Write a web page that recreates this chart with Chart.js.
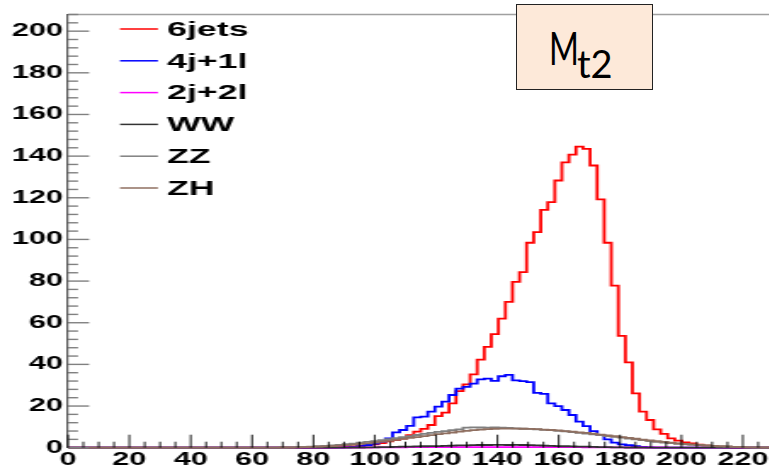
<!DOCTYPE html>
<html>
<head>
<meta charset="utf-8">
<script src="https://cdn.jsdelivr.net/npm/chart.js@4.4.1/dist/chart.umd.min.js"></script>
<style>
  html, body { margin: 0; padding: 0; background: #fff; overflow: hidden; }
  body { width: 769px; height: 469px; position: relative; }
  /* the ROOT canvas was pasted stretched sideways, so draw narrow and widen */
  #stretch { position: absolute; left: 0; top: 0; width: 455px; height: 469px;
             transform: scaleX(1.7); transform-origin: 0 0; }
  #tag { position: absolute; left: 516px; top: 4px; width: 137px; height: 86px;
         box-sizing: border-box; background: #fde9d9; border: 1.5px solid #222; }
  #tag span { position: absolute; font-family: Lato, "Open Sans", sans-serif; color: #000; line-height: 1; }
  #tag .m { left: 31.5px; top: 20px; font-size: 46px; transform: scaleX(0.7); transform-origin: 0 0; }
  #tag .sub { left: 60px; top: 39px; font-size: 38px; }
</style>
</head>
<body>
<div id="stretch"><canvas id="mt2" width="455" height="469"></canvas></div>
<div id="tag"><span class="m">M</span><span class="sub">t2</span></div>
<script>
// 100 bins of 2.3 GeV from 0 to 230
const binWidth = 2.3;
const nBins = 100;
const firstBin = 30; // every sample is empty below this bin

const seriesNames = ['6jets', '4j+1l', '2j+2l', 'WW', 'ZZ', 'ZH'];
const seriesColors = ['#ff0000', '#0000ff', '#ff00ff', '#333333', '#808080', '#8f6f60'];

// bin contents from firstBin to bin 99
const jets6 = [
  0, 0, 0, 0, 0, 0, 0,
  0.2, 0.3, 0.4, 0.6, 0.9, 1.2, 1.6, 2.2,
  3.0, 3.6, 4.4, 6.0, 7.7, 9.0, 10.9, 15.2,
  16.8, 21.3, 27.2, 30.4, 35.2, 42.3, 48.4, 54.5,
  62.0, 70.0, 79.6, 84.3, 98.4, 103.5, 114.2, 117.9,
  128.3, 137.0, 140.7, 144.6, 143.5, 135.5, 119.2, 98.4,
  77.8, 53.7, 41.0, 26.1, 17.3, 13.3, 8.8, 6.6,
  4.5, 3.4, 2.6, 2.1, 1.5, 1.0, 0.7, 0.4,
  0.2, 0, 0, 0, 0, 0, 0
];
const j4l1 = [
  0, 0, 0, 0, 0, 0, 0, 0, 0,
  0.2, 0.4, 0.8, 1.3, 2.0, 2.9, 4.5, 7.4,
  8.5, 10.5, 14.6, 14.9, 17.3, 19.7, 22.1, 25.3,
  28.4, 29.2, 30.8, 32.8, 33.2, 32.1, 34.3, 35.0,
  32.3, 32.0, 31.5, 26.3, 25.8, 21.3, 20.0, 18.1,
  15.7, 12.5, 10.4, 8.0, 6.1, 4.0, 2.4, 1.6,
  1.2, 0.7, 0.4, 0.2, 0, 0, 0, 0,
  0, 0, 0, 0, 0, 0, 0, 0, 0, 0, 0, 0, 0
];
const j2l2 = [
  0, 0, 0, 0, 0, 0, 0, 0,
  0.1, 0.1, 0.1, 0.1, 0.1,
  0.2, 0.2, 0.2, 0.2, 0.2,
  0.3, 0.3, 0.3, 0.3, 0.3, 0.3, 0.3, 0.3, 0.3, 0.3, 0.3, 0.3, 0.3,
  0.3, 0.3, 0.3, 0.3, 0.3, 0.3, 0.3, 0.3, 0.3, 0.3, 0.3, 0.3,
  0.2, 0.2, 0.2, 0.2, 0.2, 0.2,
  0.1, 0.1, 0.1, 0.1, 0.1, 0.1,
  0, 0, 0, 0, 0, 0, 0, 0, 0, 0, 0, 0, 0, 0, 0
];
const ww = [
  0, 0, 0, 0, 0, 0, 0, 0, 0, 0,
  0.1, 0.1, 0.2, 0.2, 0.3, 0.3, 0.4, 0.5,
  0.5, 0.6, 0.7, 0.8, 0.8, 0.9, 1.0, 1.1,
  1.1, 1.2, 1.3, 1.3, 1.4, 1.4, 1.3, 1.4,
  1.3, 1.2, 1.1, 1.0, 0.9, 0.8, 0.7, 0.6,
  0.5, 0.5, 0.4, 0.3, 0.3, 0.2, 0.2, 0.1,
  0.1, 0, 0, 0, 0, 0, 0, 0, 0, 0, 0, 0, 0, 0, 0, 0, 0, 0, 0, 0
];
const zz = [
  0.1, 0.2, 0.3, 0.4, 0.5, 0.7, 0.9, 1.1,
  1.4, 1.7, 2.0, 2.4, 2.8, 3.2, 3.6, 4.1,
  4.6, 5.1, 5.6, 6.1, 6.6, 7.1, 7.6, 8.0,
  8.4, 8.8, 9.6, 9.8, 9.7, 9.6, 9.7, 9.6,
  9.5, 9.3, 9.1, 9.0, 8.8, 8.6, 8.4, 8.1,
  7.8, 7.5, 7.1, 6.8, 6.4, 6.0, 5.6, 5.2,
  4.8, 4.4, 4.0, 3.6, 3.2, 2.8, 2.5, 2.2,
  1.9, 1.6, 1.4, 1.2, 1.0, 0.8, 0.6, 0.5,
  0.4, 0.3, 0.2, 0.1, 0.1, 0
];
const zh = [
  0.1, 0.1, 0.2, 0.3, 0.4, 0.5, 0.6, 0.8,
  1.0, 1.2, 1.5, 1.8, 2.1, 2.5, 2.9, 3.3,
  3.8, 4.2, 4.7, 5.1, 5.6, 6.0, 6.5, 6.9,
  7.3, 7.7, 8.1, 8.4, 8.7, 8.9, 9.1, 9.2,
  9.2, 9.2, 9.1, 9.0, 8.9, 8.7, 8.5, 8.3,
  8.0, 7.7, 7.4, 7.1, 6.7, 6.3, 5.9, 5.5,
  5.1, 4.7, 4.3, 3.9, 3.5, 3.1, 2.8, 2.4,
  2.1, 1.8, 1.6, 1.3, 1.1, 0.9, 0.7, 0.6,
  0.4, 0.3, 0.2, 0.2, 0.1, 0.1
];

const xTicks = [0, 20, 40, 60, 80, 100, 120, 140, 160, 180, 200, 220];
const yTicks = [0, 20, 40, 60, 80, 100, 120, 140, 160, 180, 200];
const xMax = 230;
const yMax = 208;

// turn bin contents into step points, one per low edge plus the last high edge
function histPoints(values) {
  const pts = [];
  for (let i = 0; i < nBins; i++) {
    const k = i - firstBin;
    const v = (k >= 0 && k < values.length) ? values[k] : 0;
    pts.push({ x: i * binWidth, y: v });
  }
  pts.push({ x: nBins * binWidth, y: pts[pts.length - 1].y });
  return pts;
}

const allSeries = [jets6, j4l1, j2l2, ww, zz, zh];
const labelFont = { family: '"Liberation Sans", Arial, sans-serif', size: 18, weight: 'bold' };

// ROOT style: ticks inside the frame, a gray top line, legend in the corner
const rootFrame = {
  id: 'rootFrame',
  afterDraw(chart) {
    const { ctx, chartArea: a, scales: { x, y } } = chart;
    ctx.save();

    ctx.strokeStyle = '#a0a0a0';
    ctx.lineWidth = 1.7;
    ctx.beginPath();
    ctx.moveTo(a.left, a.top);
    ctx.lineTo(a.right + 10, a.top);
    ctx.stroke();

    ctx.strokeStyle = '#808080';
    ctx.lineWidth = 1.4;
    for (let v = 0; v <= yMax; v += 4) {
      const py = y.getPixelForValue(v);
      const len = v % 20 === 0 ? 12.4 : 5.9;
      ctx.beginPath();
      ctx.moveTo(a.left, py);
      ctx.lineTo(a.left + len, py);
      ctx.stroke();
    }

    ctx.strokeStyle = '#000';
    ctx.lineWidth = 0.9;
    for (let v = 0; v <= xMax; v += 5) {
      const px = x.getPixelForValue(v);
      const len = v % 20 === 0 ? 13 : 6;
      ctx.beginPath();
      ctx.moveTo(px, a.bottom);
      ctx.lineTo(px, a.bottom - len);
      ctx.stroke();
    }

    ctx.font = 'bold 21px "Liberation Sans", Arial, sans-serif';
    ctx.textBaseline = 'middle';
    ctx.textAlign = 'left';
    seriesNames.forEach((name, i) => {
      const ly = 29 + i * 31.8;
      ctx.strokeStyle = seriesColors[i];
      ctx.lineWidth = 1.5;
      ctx.beginPath();
      ctx.moveTo(70.6, ly);
      ctx.lineTo(92.9, ly);
      ctx.stroke();
      ctx.fillStyle = '#000';
      ctx.fillText(name, 98.2, ly + 1);
    });

    ctx.restore();
  }
};

new Chart(document.getElementById('mt2'), {
  type: 'line',
  data: {
    datasets: seriesNames.map((name, i) => ({
      label: name,
      data: histPoints(allSeries[i]),
      borderColor: seriesColors[i],
      borderWidth: 1.8,
      stepped: true,
      pointRadius: 0,
      fill: false,
      clip: 4,
      order: seriesNames.length - 1 - i
    }))
  },
  options: {
    responsive: false,
    animation: false,
    events: [],
    layout: { padding: { top: 14.5, left: 0, right: 0, bottom: 0 } },
    plugins: { legend: { display: false }, tooltip: { enabled: false } },
    scales: {
      x: {
        type: 'linear',
        min: 0,
        max: xMax,
        afterBuildTicks: s => { s.ticks = xTicks.map(v => ({ value: v })); },
        afterFit: s => { s.height = 21.3; },
        ticks: { font: labelFont, color: '#000', padding: 2, maxRotation: 0, autoSkip: false },
        grid: { display: false, drawTicks: false },
        border: { display: true, color: '#000', width: 1 }
      },
      y: {
        min: 0,
        max: yMax,
        afterBuildTicks: s => { s.ticks = yTicks.map(v => ({ value: v })); },
        afterFit: s => { s.width = 40; },
        ticks: { font: labelFont, color: '#000', padding: 3 },
        grid: { display: false, drawTicks: false },
        border: { display: true, color: '#555', width: 1.2 }
      }
    }
  },
  plugins: [rootFrame]
});
</script>
</body>
</html>
